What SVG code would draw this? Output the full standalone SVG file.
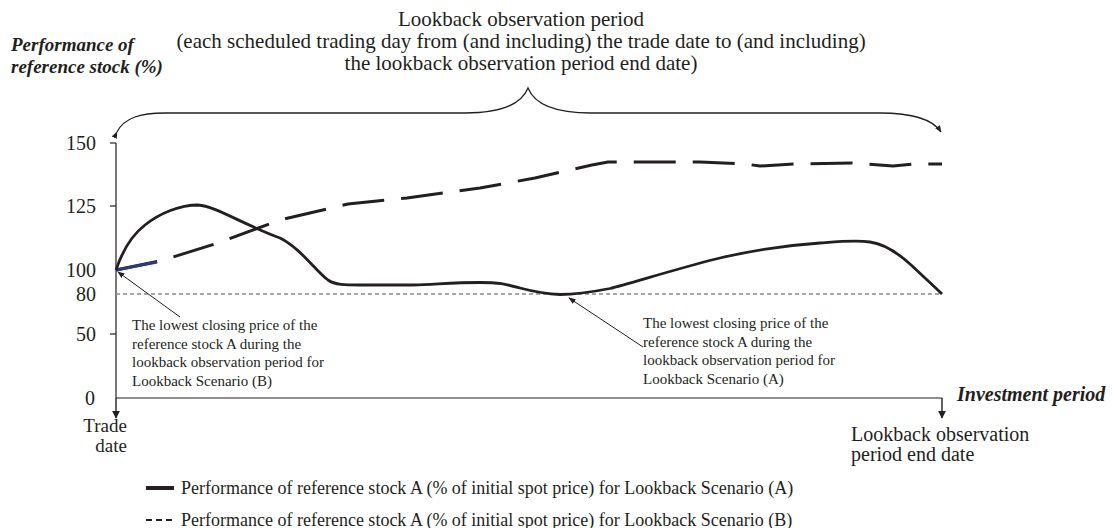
<svg xmlns="http://www.w3.org/2000/svg" width="1112" height="528" viewBox="0 0 1112 528">
<defs>
<marker id="ah" viewBox="0 0 10 10" refX="9" refY="5" markerWidth="8" markerHeight="8" markerUnits="userSpaceOnUse" orient="auto"><path d="M0,0 L10,5 L0,10 z" fill="#231f20"/></marker>
<marker id="ahs" viewBox="0 0 10 10" refX="9" refY="5" markerWidth="7" markerHeight="7" markerUnits="userSpaceOnUse" orient="auto"><path d="M0,1 L10,5 L0,9 z" fill="#231f20"/></marker>
<style>
.t{font-family:"Liberation Serif","Times New Roman",serif;fill:#231f20}
.ax{font-size:20px;text-anchor:end}
.bi{font-weight:bold;font-style:italic}
.ann{font-size:15px}
.leg{font-size:18px}
.ln{fill:none;stroke:#231f20}
</style>
</defs>
<rect width="1112" height="528" fill="#ffffff"/>

<g id="title">
<text class="t" x="521" y="26" font-size="21" text-anchor="middle">Lookback observation period</text>
<text class="t" x="521" y="48" font-size="21" text-anchor="middle">(each scheduled trading day from (and including) the trade date to (and including)</text>
<text class="t" x="521" y="70" font-size="21" text-anchor="middle">the lookback observation period end date)</text>
</g>

<g id="y-title">
<text class="t bi" x="11" y="51" font-size="19">Performance of</text>
<text class="t bi" x="11" y="73" font-size="19">reference stock (%)</text>
</g>

<g id="axes">
<line class="ln" x1="116" y1="143" x2="116" y2="398" stroke-width="1.2"/>
<line class="ln" x1="116" y1="398" x2="942" y2="398" stroke-width="1.2"/>
<line class="ln" x1="110" y1="143" x2="116" y2="143" stroke-width="1.2"/>
<line class="ln" x1="110" y1="206" x2="116" y2="206" stroke-width="1.2"/>
<line class="ln" x1="110" y1="334" x2="116" y2="334" stroke-width="1.2"/>
<line class="ln" x1="116" y1="398" x2="116" y2="418" stroke-width="1.4" marker-end="url(#ah)"/>
<line class="ln" x1="942" y1="398" x2="942" y2="418" stroke-width="1.4" marker-end="url(#ah)"/>
<text class="t ax" x="96" y="150">150</text>
<text class="t ax" x="96" y="213">125</text>
<text class="t ax" x="96" y="277">100</text>
<text class="t ax" x="96" y="301">80</text>
<text class="t ax" x="96" y="341">50</text>
<text class="t ax" x="95" y="405">0</text>
<text class="t bi" x="957" y="401" font-size="20">Investment period</text>
<text class="t" font-size="19" text-anchor="end"><tspan x="127" y="432">Trade</tspan><tspan x="127" y="452">date</tspan></text>
<text class="t" font-size="20"><tspan x="851" y="441">Lookback observation</tspan><tspan x="851" y="461">period end date</tspan></text>
</g>

<g id="connectors">
<path class="ln" stroke-width="1.3" marker-start="url(#ahs)" marker-end="url(#ahs)" d="M117,132 C124,118 140,113 165,113 L465,113 C505,113 522,103 528,88 C534,103 551,113 591,113 L880,113 C910,113 932,118 941,132"/>
<line x1="116" y1="294" x2="942" y2="294" stroke="#8a8a8a" stroke-width="1.5" stroke-dasharray="4 3"/>
<path class="ln" stroke-width="3" stroke-dasharray="42 17" stroke-linejoin="round" d="M116,270 L160,261 L218,243 L280,220 L348,204 L407,198 L480,188 L535,178 L592,165 L608,162 L700,162 L745,164 L760,166 L795,164 L852,163 L893,166 L913,164 L942,164"/>
<line x1="116" y1="270" x2="157" y2="262" stroke="#2b3a80" stroke-width="3"/>
<path class="ln" stroke-width="2.8" stroke-linejoin="round" d="M116,270 C122,252 132,235 145,225 C160,213 180,205 198,205 C215,206 240,223 280,238 C300,248 315,270 328,280 C335,285 345,285 360,285 L413,285 C440,284 455,282.5 480,282.5 C500,282.5 505,284 520,288 C535,292 545,294 560,294.5 C575,294.5 592,292 610,288.5 C628,284 690,265 720,258 C750,251 790,245 820,243 C840,241.5 855,240 870,242 C885,244 900,255 910,264 C925,278 935,287 942,294"/>
<line class="ln" x1="180" y1="317" x2="118" y2="272" stroke-width="1" marker-end="url(#ahs)"/>
<line class="ln" x1="643" y1="347" x2="569" y2="298" stroke-width="1" marker-end="url(#ahs)"/>
</g>

<g id="note-b">
<text class="t ann" x="132" y="330">The lowest closing price of the</text>
<text class="t ann" x="132" y="348.5">reference stock A during the</text>
<text class="t ann" x="132" y="367">lookback observation period for</text>
<text class="t ann" x="132" y="385.5">Lookback Scenario (B)</text>
</g>

<g id="note-a">
<text class="t ann" x="643" y="328">The lowest closing price of the</text>
<text class="t ann" x="643" y="346.5">reference stock A during the</text>
<text class="t ann" x="643" y="365">lookback observation period for</text>
<text class="t ann" x="643" y="383.5">Lookback Scenario (A)</text>
</g>

<g id="legend">
<line x1="146" y1="488" x2="174" y2="488" stroke="#231f20" stroke-width="4"/>
<text class="t leg" x="181" y="494">Performance of reference stock A (% of initial spot price) for Lookback Scenario (A)</text>
<line x1="146" y1="520" x2="174" y2="520" stroke="#231f20" stroke-width="2" stroke-dasharray="6 4"/>
<text class="t leg" x="181" y="526">Performance of reference stock A (% of initial spot price) for Lookback Scenario (B)</text>
</g>
</svg>
